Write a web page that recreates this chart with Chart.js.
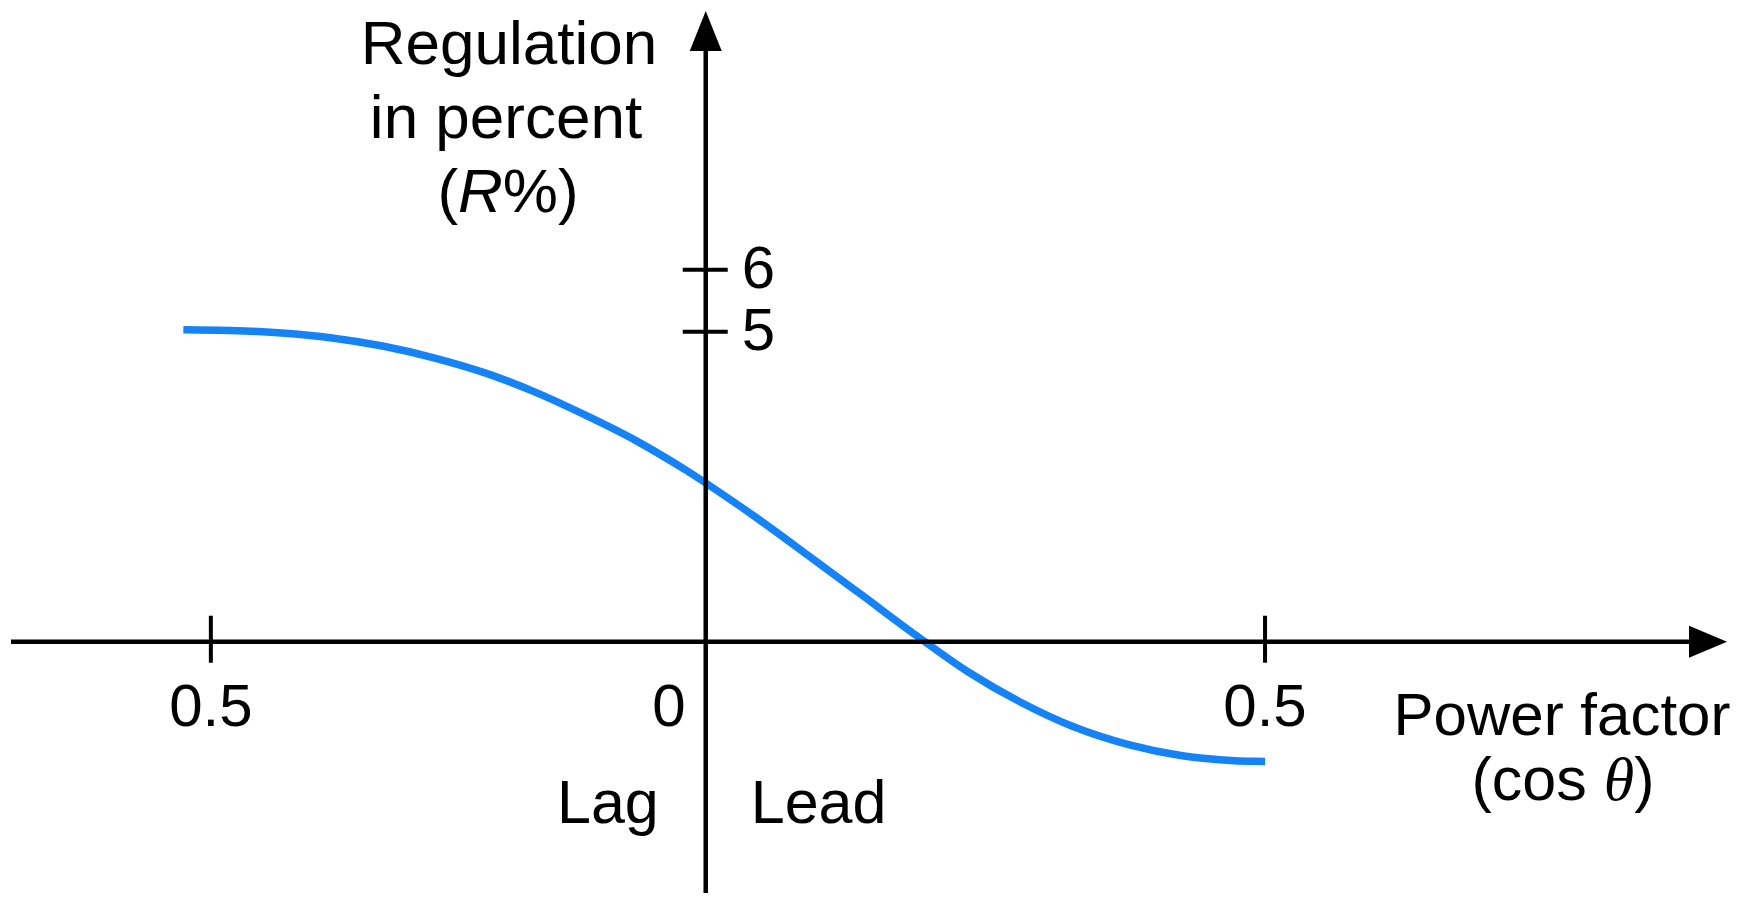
<!DOCTYPE html>
<html>
<head>
<meta charset="utf-8">
<script src="https://cdn.jsdelivr.net/npm/chart.js@4/dist/chart.umd.min.js"></script>
<style>
  html, body { margin: 0; padding: 0; background: #ffffff; }
  #wrap { width: 1740px; height: 904px; }
  canvas { display: block; }
</style>
</head>
<body>
<div id="wrap"><canvas id="c" width="1740" height="904"></canvas></div>
<script>
// ---- data ----
// horizontal position: negative = lagging side, positive = leading side (0.5 leading at +0.5)
const powerFactorPos = [-0.467, -0.425, -0.379, -0.334, -0.289, -0.243, -0.198, -0.153, -0.107, -0.062, -0.017, 0.000,
                        0.043, 0.091, 0.139, 0.186, 0.234, 0.282, 0.330, 0.378, 0.426, 0.473, 0.500];
const regulationPct  = [5.03, 5.02, 4.98, 4.90, 4.77, 4.58, 4.34, 4.03, 3.65, 3.24, 2.76, 2.56,
                        2.03, 1.40, 0.76, 0.13, -0.48, -0.98, -1.38, -1.66, -1.84, -1.92, -1.93];
const xTickValues = [-0.4424, 0, 0.5];
const xTickLabels = ['0.5', '0', '0.5'];
const yTickValues = [6, 5];
const yTickLabels = ['6', '5'];
const yTitleLines = ['Regulation', 'in percent'];
const xTitle = 'Power factor';
const sideLabels = ['Lag', 'Lead'];

const SANS = '"Liberation Sans", Arial, Helvetica, sans-serif';
const SERIF = '"Liberation Serif", "DejaVu Serif", serif';

function drawMixed(ctx, parts, cx, baseline) {
  let total = 0;
  parts.forEach(p => { ctx.font = p.font; p.w = ctx.measureText(p.t).width; total += p.w; });
  let x = cx - total / 2;
  ctx.textAlign = 'left';
  parts.forEach(p => { ctx.font = p.font; ctx.fillText(p.t, x, baseline); x += p.w; });
}

const axesPlugin = {
  id: 'schematicAxes',
  afterDatasetsDraw(chart) {
    const ctx = chart.ctx;
    const xs = chart.scales.x, ys = chart.scales.y;
    const x0 = xs.getPixelForValue(0);
    const y0 = ys.getPixelForValue(0);
    ctx.save();
    ctx.strokeStyle = '#000';
    ctx.fillStyle = '#000';
    ctx.lineCap = 'butt';

    // horizontal axis
    ctx.lineWidth = 4.5;
    ctx.beginPath();
    ctx.moveTo(11, y0);
    ctx.lineTo(1695, y0);
    ctx.stroke();
    // arrow right
    ctx.beginPath();
    ctx.moveTo(1727, y0);
    ctx.lineTo(1689, y0 - 16);
    ctx.lineTo(1689, y0 + 16);
    ctx.closePath();
    ctx.fill();

    // vertical axis
    ctx.lineWidth = 4.5;
    ctx.beginPath();
    ctx.moveTo(x0, 893);
    ctx.lineTo(x0, 45);
    ctx.stroke();
    // arrow up
    ctx.beginPath();
    ctx.moveTo(x0, 11);
    ctx.lineTo(x0 - 16, 51);
    ctx.lineTo(x0 + 16, 51);
    ctx.closePath();
    ctx.fill();

    // x ticks (crossing the axis)
    ctx.lineWidth = 4;
    xTickValues.forEach((v) => {
      if (v === 0) return;
      const px = xs.getPixelForValue(v);
      ctx.beginPath();
      ctx.moveTo(px, y0 - 26);
      ctx.lineTo(px, y0 + 21);
      ctx.stroke();
    });
    // y ticks
    yTickValues.forEach(v => {
      const py = ys.getPixelForValue(v);
      ctx.beginPath();
      ctx.moveTo(x0 - 23, py);
      ctx.lineTo(x0 + 22, py);
      ctx.stroke();
    });

    // tick labels
    ctx.font = '60px ' + SANS;
    ctx.textBaseline = 'alphabetic';
    xTickValues.forEach((v, i) => {
      const px = xs.getPixelForValue(v);
      if (v === 0) {
        ctx.textAlign = 'right';
        ctx.fillText(xTickLabels[i], px - 20, y0 + 84);
      } else {
        ctx.textAlign = 'center';
        ctx.fillText(xTickLabels[i], px, y0 + 84);
      }
    });
    ctx.textAlign = 'left';
    ctx.textBaseline = 'middle';
    yTickValues.forEach((v, i) => {
      const py = ys.getPixelForValue(v);
      ctx.fillText(yTickLabels[i], x0 + 36, py + 2);
    });

    // y title
    ctx.textBaseline = 'alphabetic';
    ctx.textAlign = 'center';
    ctx.font = '62px ' + SANS;
    ctx.fillText(yTitleLines[0], 509, 64);
    ctx.fillText(yTitleLines[1], 506, 138);
    drawMixed(ctx, [
      { t: '(', font: '62px ' + SANS },
      { t: 'R', font: 'italic 62px ' + SANS },
      { t: '%)', font: '62px ' + SANS }
    ], 508, 212);

    // x title
    ctx.font = '60px ' + SANS;
    ctx.textAlign = 'center';
    ctx.fillText(xTitle, 1562, 735);
    drawMixed(ctx, [
      { t: '(cos ', font: '61px ' + SANS },
      { t: '\u03B8', font: 'italic 62px ' + SERIF },
      { t: ')', font: '61px ' + SANS }
    ], 1563, 800);

    // Lag / Lead
    ctx.font = '61px ' + SANS;
    ctx.textAlign = 'right';
    ctx.fillText(sideLabels[0], x0 - 47, 823);
    ctx.textAlign = 'left';
    ctx.fillText(sideLabels[1], x0 + 45, 823);

    ctx.restore();
  }
};

const ctx = document.getElementById('c').getContext('2d');
new Chart(ctx, {
  type: 'line',
  data: {
    datasets: [{
      data: powerFactorPos.map((x, i) => ({ x: x, y: regulationPct[i] })),
      borderColor: '#1583F5',
      borderWidth: 7.5,
      borderCapStyle: 'butt',
      pointRadius: 0,
      fill: false,
      cubicInterpolationMode: 'monotone'
    }]
  },
  options: {
    responsive: false,
    animation: false,
    devicePixelRatio: 1,
    layout: { padding: 0 },
    events: [],
    plugins: { legend: { display: false }, tooltip: { enabled: false } },
    scales: {
      x: { type: 'linear', min: -0.6309, max: 0.9246, display: false },
      y: { type: 'linear', min: -4.23, max: 10.35, display: false }
    }
  },
  plugins: [axesPlugin]
});
</script>
</body>
</html>
